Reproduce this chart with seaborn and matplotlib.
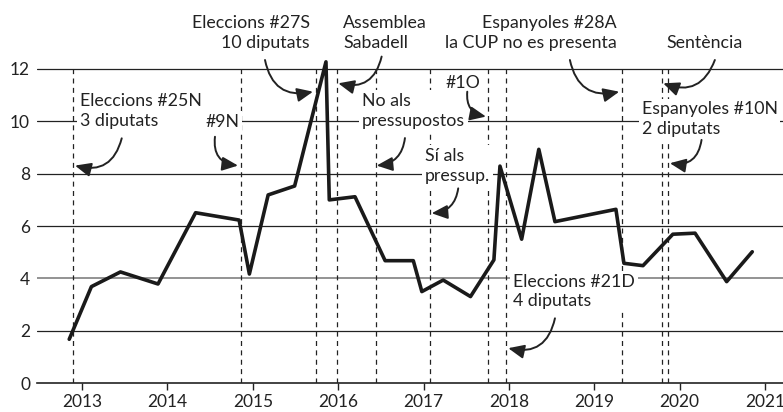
import pandas as pd
import seaborn as sns
import matplotlib.pyplot as plt

# vote estimate (% ), x as decimal year
dates = [2012.85, 2013.11, 2013.45, 2013.89, 2014.33, 2014.84, 2014.96, 2015.18, 2015.49,
         2015.857, 2015.896, 2016.197, 2016.55, 2016.88, 2016.98, 2017.23, 2017.55, 2017.824,
         2017.895, 2018.149, 2018.35, 2018.539, 2019.253, 2019.347, 2019.57, 2019.92,
         2020.18, 2020.55, 2020.85]
values = [1.68, 3.69, 4.25, 3.79, 6.51, 6.23, 4.17, 7.19, 7.53,
          12.27, 7.0, 7.12, 4.68, 4.68, 3.5, 3.94, 3.31, 4.71,
          8.29, 5.5, 8.93, 6.17, 6.64, 4.58, 4.49, 5.69,
          5.73, 3.88, 5.02]

# events (dashed lines)
events = [2012.90, 2014.86, 2015.74, 2015.99, 2016.44, 2017.07, 2017.75, 2017.97,
          2019.32, 2019.79, 2019.86]

years = list(range(2013, 2022))
yticks = [0, 2, 4, 6, 8, 10, 12]

df = pd.DataFrame({'date': dates, 'value': values})

sns.set_style('white')
plt.rcParams['font.family'] = ['Lato', 'DejaVu Sans']

fig = plt.figure(figsize=(7.83, 4.12), dpi=100)
ax = fig.add_axes([0.0473, 0.0697, 0.9527, 0.9303])

# horizontal grid
for yv in yticks[1:]:
    if yv == 4:
        ax.axhline(yv, color='#808080', lw=1.2, zorder=1)
    else:
        ax.axhline(yv, color='#222222', lw=0.9, zorder=1)

# event lines
ax.vlines(events, 0, 12, colors='#222222', linestyles=[(0, (4, 3.5))], lw=0.9, zorder=1)

sns.lineplot(data=df, x='date', y='value', ax=ax, color='#1a1a1a', lw=2.6, zorder=5)

ax.set_xlim(2012.473, 2021.21)
ax.set_ylim(0, 14.63)
ax.set_xticks(years)
ax.set_xticklabels([str(y) for y in years], fontsize=12.5)
ax.set_yticks(yticks)
ax.set_yticklabels([str(y) for y in yticks], fontsize=12.5)
ax.set_xlabel('')
ax.set_ylabel('')
for s in ['top', 'right', 'left']:
    ax.spines[s].set_visible(False)
ax.spines['bottom'].set_color('#222222')
ax.spines['bottom'].set_linewidth(1.2)
ax.tick_params(axis='x', length=5, width=1, direction='out', pad=3, colors='#222222', bottom=True)
ax.tick_params(axis='y', length=0, pad=5, colors='#222222')

box = dict(facecolor='white', edgecolor='none', pad=2)
fs = 12.8

def label(x, y, s, ha):
    ax.text(x, y, s, ha=ha, va='center', fontsize=fs, color='#222222',
            linespacing=1.28, bbox=box, zorder=3)

label(2012.977, 10.39, 'Eleccions #25N\n3 diputats', 'left')
label(2014.645, 9.97, '#9N', 'center')
label(2015.670, 13.37, 'Eleccions #27S\n10 diputats', 'right')
label(2016.056, 13.37, 'Assemblea\nSabadell', 'left')
label(2016.275, 10.39, 'No als\npressupostos', 'left')
label(2017.016, 8.30, 'Sí als\npressup.', 'left')
label(2017.458, 11.45, '#1O', 'center')
label(2019.265, 13.37, 'Espanyoles #28A\nla CUP no es presenta', 'right')
label(2020.295, 12.99, 'Sentència', 'center')
label(2019.553, 10.08, 'Espanyoles #10N\n2 diputats', 'left')
label(2018.050, 3.50, 'Eleccions #21D\n4 diputats', 'left')

def arrow(start, tip, rad):
    ax.annotate('', xy=tip, xytext=start,
                arrowprops=dict(arrowstyle='-|>,head_length=0.8,head_width=0.35',
                                connectionstyle=f'arc3,rad={rad}', color='#222222',
                                lw=1.4, shrinkA=0, shrinkB=0, mutation_scale=12),
                zorder=4)

arrow((2013.465, 9.35), (2012.918, 8.31), -0.5)
arrow((2014.557, 9.41), (2014.827, 8.31), 0.5)
arrow((2015.143, 12.34), (2015.705, 11.13), 0.5)
arrow((2016.509, 12.47), (2016.001, 11.45), -0.5)
arrow((2016.782, 9.36), (2016.451, 8.31), -0.4)
arrow((2017.406, 7.44), (2017.095, 6.49), -0.4)
arrow((2017.512, 11.13), (2017.731, 10.18), 0.45)
arrow((2018.714, 12.34), (2019.292, 11.13), 0.5)
arrow((2020.412, 12.34), (2019.807, 11.45), -0.5)
arrow((2020.256, 9.29), (2019.885, 8.40), -0.5)
arrow((2018.539, 2.48), (2017.992, 1.34), -0.5)

fig.savefig('out.png', dpi=100)
